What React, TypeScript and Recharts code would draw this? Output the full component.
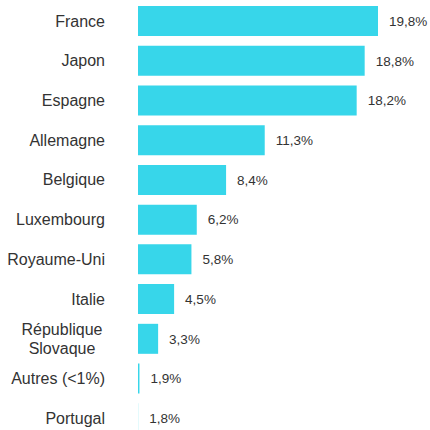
import React from 'react'
import { BarChart, Bar, XAxis, YAxis, LabelList } from 'recharts'

const countries = ['France', 'Japon', 'Espagne', 'Allemagne', 'Belgique', 'Luxembourg', 'Royaume-Uni', 'Italie', 'République Slovaque', 'Autres (<1%)', 'Portugal']
const shares = [19.8, 18.8, 18.2, 11.3, 8.4, 6.2, 5.8, 4.5, 3.3, 1.9, 1.8]

const font = '"Liberation Sans", Arial, sans-serif'
const textColor = '#333333'

const data = countries.map((c, i) => ({ name: c, value: shares[i] }))

function CountryTick({ x, y, payload }: any) {
  const label = String(payload.value)
  // long names go on two centred lines, like the original
  if (label.length > 14) {
    const parts = label.split(' ')
    return (
      <text x={x - 43} y={y} textAnchor="middle" fill={textColor} fontSize={16} fontFamily={font}>
        <tspan x={x - 43} dy="-0.2em">{parts[0]}</tspan>
        <tspan x={x - 43} dy="1.15em">{parts.slice(1).join(' ')}</tspan>
      </text>
    )
  }
  return (
    <text x={x} y={y} dy="0.355em" textAnchor="end" fill={textColor} fontSize={16} fontFamily={font}>
      {label}
    </text>
  )
}

export default function App() {
  return (
    <div style={{ position: 'absolute', top: 0, left: 0, width: 430, height: 430, overflow: 'hidden', background: '#fff' }}>
      <BarChart width={430} height={438} data={data} layout="vertical" margin={{ top: 1, right: 52, bottom: 0, left: 0 }}>
        {/* axis starts just under the smallest share, so Portugal has (almost) no bar */}
        <XAxis type="number" domain={[1.79, 19.8]} allowDataOverflow hide />
        <YAxis type="category" dataKey="name" width={138} axisLine={false} tickLine={false} tickSize={0} tickMargin={33} tick={<CountryTick />} interval={0} />
        <Bar dataKey="value" fill="#37d6ea" barSize={30} isAnimationActive={false}>
          <LabelList dataKey="value" position="right" offset={11} fill={textColor} fontSize={13.5} fontFamily={font}
            formatter={(v: any) => `${String(v).replace('.', ',')}%`} />
        </Bar>
      </BarChart>
    </div>
  )
}
